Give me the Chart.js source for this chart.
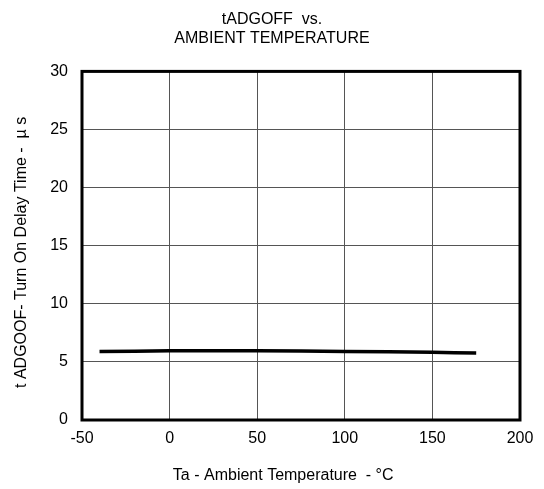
<!DOCTYPE html>
<html>
<head>
<meta charset="utf-8">
<script src="https://cdn.jsdelivr.net/npm/chart.js@4/dist/chart.umd.min.js"></script>
<style>
  html, body { margin: 0; padding: 0; background: #fff; }
  #wrap { width: 544px; height: 489px; }
</style>
</head>
<body>
<div id="wrap"><canvas id="chart"></canvas></div>
<script>
const titleLines = ["tADGOFF  vs.", "AMBIENT TEMPERATURE"];
// trailing spaces nudge the axis titles the way the original sits
const xTitle = "Ta - Ambient Temperature  - °C        ";
const yTitle = "t ADGOOF- Turn On Delay Time -  µ s   ";

const temps = [-40, 0, 25, 50, 100, 150, 175];
const delayOff = [5.9, 5.95, 5.96, 5.95, 5.9, 5.82, 5.76];

const FONT = "'Liberation Sans', Arial, sans-serif";

// thick frame round the plot area
const frame = {
  id: "frame",
  afterDraw(chart) {
    const { ctx, chartArea: a } = chart;
    ctx.save();
    ctx.strokeStyle = "#000";
    ctx.lineWidth = 3;
    ctx.strokeRect(a.left, a.top, a.right - a.left, a.bottom - a.top);
    ctx.restore();
  }
};

new Chart(document.getElementById("chart"), {
  type: "line",
  data: {
    datasets: [{
      data: temps.map((t, i) => ({ x: t, y: delayOff[i] })),
      borderColor: "#000",
      borderWidth: 3.5,
      pointRadius: 0,
      tension: 0.3,
      fill: false
    }]
  },
  options: {
    responsive: true,
    maintainAspectRatio: false,
    animation: false,
    layout: { padding: 0 },
    plugins: {
      legend: { display: false },
      tooltip: { enabled: false },
      title: {
        display: true,
        text: titleLines,
        color: "#000",
        font: { family: FONT, size: 16, weight: "normal", lineHeight: 1.2 },
        padding: { top: 10, bottom: 23 }
      }
    },
    scales: {
      x: {
        type: "linear",
        min: -50,
        max: 200,
        afterFit(scale) { scale.height = 69; },
        ticks: {
          stepSize: 50,
          color: "#000",
          padding: 9,
          font: { family: FONT, size: 16 }
        },
        grid: { color: "#555", lineWidth: 1, drawTicks: false },
        border: { display: false },
        title: {
          display: true,
          text: xTitle,
          color: "#000",
          font: { family: FONT, size: 16 },
          padding: { top: 17 }
        }
      },
      y: {
        min: 0,
        max: 30,
        afterFit(scale) { scale.width = 82; },
        ticks: {
          stepSize: 5,
          color: "#000",
          padding: 14,
          font: { family: FONT, size: 16 }
        },
        grid: { color: "#555", lineWidth: 1, drawTicks: false },
        border: { display: false },
        title: {
          display: true,
          text: yTitle,
          color: "#000",
          font: { family: FONT, size: 16 },
          padding: { top: 12 }
        }
      },
      // empty right-hand axis, only keeps the margin on the right
      yRight: {
        position: "right",
        min: 0,
        max: 30,
        afterFit(scale) { scale.width = 24; },
        ticks: { display: false },
        grid: { display: false },
        border: { display: false }
      }
    }
  },
  plugins: [frame]
});
</script>
</body>
</html>
